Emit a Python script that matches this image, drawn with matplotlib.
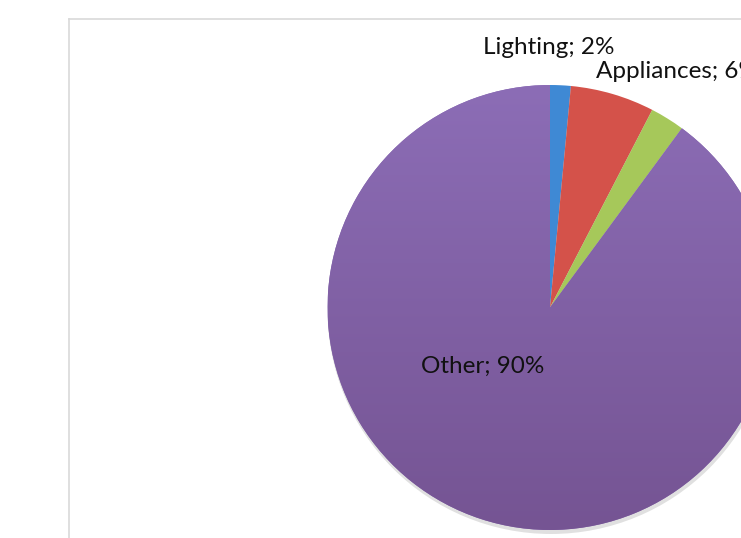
import matplotlib.pyplot as plt
import numpy as np
from matplotlib.colors import LinearSegmentedColormap

# energy use shares (%)
categories = ["Lighting", "Appliances", "Cooling", "Other"]
shares = [1.5, 6.1, 2.5, 89.9]
colors = ["#3f89d4", "#d4524a", "#a6c85a", "#8a6cb3"]

W, H = 741, 538
fig = plt.figure(figsize=(W / 100, H / 100), dpi=100)
ax = fig.add_axes([0, 0, 1, 1])

# plot area frame (runs off the right and bottom edges)
ax.plot([69, 69], [0, H - 19], color="#d9d9d9", lw=1.2)
ax.plot([69, W], [H - 19, H - 19], color="#d9d9d9", lw=1.2)

cx, cy, r = 550, H - 307.5, 222.5

# soft shadow
shadow = plt.Circle((cx + 1, cy - 3), r + 1, color="#000000", alpha=0.12, lw=0)
ax.add_patch(shadow)

wedges, _ = ax.pie(shares, colors=colors, startangle=90, counterclock=False,
                   center=(cx, cy), radius=r, frame=True,
                   wedgeprops=dict(linewidth=0))
ax.set_xlim(0, W)
ax.set_ylim(0, H)
ax.set_aspect("equal")
ax.axis("off")

# vertical gradient on the big slice
grad = np.linspace(0, 1, 256).reshape(-1, 1)
cmap = LinearSegmentedColormap.from_list("p", ["#755493", "#8c6db6"])
im = ax.imshow(grad, cmap=cmap, extent=(cx - r, cx + r, cy - r, cy + r),
               origin="lower", aspect="auto", zorder=wedges[3].get_zorder() + 0.1)
im.set_clip_path(wedges[3])

labels = [f"{c}; {v:.0f}%" for c, v in zip(categories, shares)]
font = dict(family=["Lato", "DejaVu Sans"], fontsize=17.5, color="#111111", zorder=10)
ax.text(549, H - 47, labels[0], ha="center", va="center", **font)
ax.text(596, H - 71, labels[1], ha="left", va="center", **font)
ax.text(483, H - 366, labels[3], ha="center", va="center", **font)

fig.savefig("out.png", dpi=100)
